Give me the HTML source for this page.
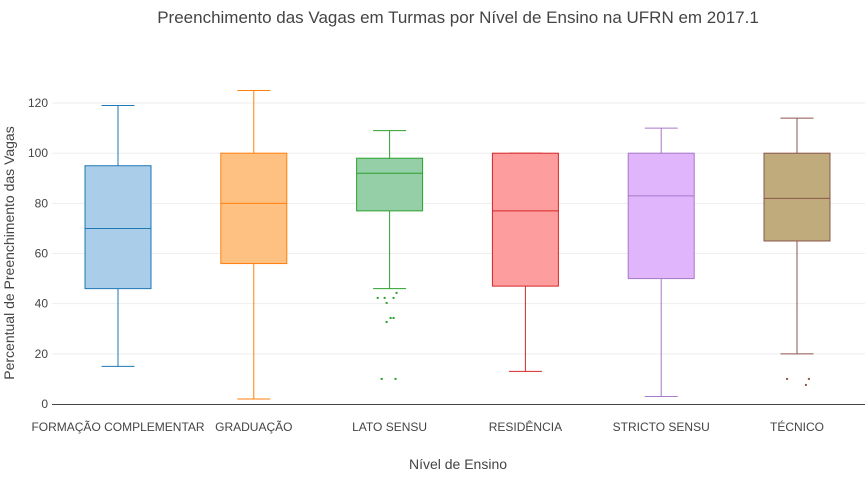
<!DOCTYPE html>
<html><head><meta charset="utf-8"><style>
body{margin:0;background:#fff;font-family:"Liberation Sans",sans-serif;}
svg text{font-family:"Liberation Sans",sans-serif;fill:#444;}
</style></head><body>
<svg id="c" width="867" height="475">
<text x="458" y="23" text-anchor="middle" font-size="17">Preenchimento das Vagas em Turmas por Nível de Ensino na UFRN em 2017.1</text>
<text transform="translate(14,253) rotate(-90)" text-anchor="middle" font-size="14">Percentual de Preenchimento das Vagas</text>
<text x="458" y="469" text-anchor="middle" font-size="14">Nível de Ensino</text>
<g id="grid"></g><g id="boxes"></g><g id="xl"></g>
</svg>
<script>
const categories=["FORMAÇÃO COMPLEMENTAR","GRADUAÇÃO","LATO SENSU","RESIDÊNCIA","STRICTO SENSU","TÉCNICO"];
const lowWhisker=[15,2,46,13,3,20];
const q1=[46,56,77,47,50,65];
const median=[70,80,92,77,83,82];
const q3=[95,100,98,100,100,100];
const highWhisker=[119,125,109,100,110,114];
const outlierCat=[2,2,2,2,2,2,2,2,2,2,5,5,5];
const outlierVal=[44.3,42.3,42.3,42.3,40.3,34.3,34.3,32.7,10,10,10,10,7.6];
const outlierJitter=[0.07,-0.12,-0.05,0.04,-0.03,0.01,0.04,-0.03,-0.08,0.06,-0.1,0.12,0.09];
const yTicks=[0,20,40,60,80,100,120];
const lineColors=["#1f77b4","#ff7f0e","#2ca02c","#d62728","#a678c9","#8c564b"];
const fillColors=["#aacde9","#ffc182","#95cfa8","#fe9d9d","#e1b5fb","#bfab7b"];
const NS="http://www.w3.org/2000/svg";
const y=v=>404-v*2.508, x=i=>118+i*135.8, BW=66;
function mk(t,a,p){const e=document.createElementNS(NS,t);for(const k in a)e.setAttribute(k,a[k]);p.appendChild(e);return e;}
const g=document.getElementById('grid');
yTicks.forEach(t=>{
 if(t>0){const l=mk('line',{x1:52,x2:865,y1:y(t),y2:y(t),stroke:'#eee'},g);
 
 }
 const tx=mk('text',{x:48,y:y(t)+4,'text-anchor':'end','font-size':12},g);tx.textContent=t;
 
 
});
const ax=mk('line',{x1:52,x2:865,y1:404.5,y2:404.5,stroke:'#444'},g);


const b=document.getElementById('boxes');
categories.forEach((c,i)=>{
 const cx=x(i),col=lineColors[i];
 const gg=mk('g',{},b);
 
 
 mk('line',{x1:cx,x2:cx,y1:y(lowWhisker[i]),y2:y(q1[i]),stroke:col,'stroke-width':1},gg);
 mk('line',{x1:cx,x2:cx,y1:y(q3[i]),y2:y(highWhisker[i]),stroke:col,'stroke-width':1},gg);
 mk('line',{x1:cx-BW/4,x2:cx+BW/4,y1:y(lowWhisker[i]),y2:y(lowWhisker[i]),stroke:col,'stroke-width':1},gg);
 mk('line',{x1:cx-BW/4,x2:cx+BW/4,y1:y(highWhisker[i]),y2:y(highWhisker[i]),stroke:col,'stroke-width':1},gg);
 mk('rect',{x:cx-BW/2,y:y(q3[i]),width:BW,height:y(q1[i])-y(q3[i]),fill:fillColors[i],stroke:col,'stroke-width':1},gg);
 mk('line',{x1:cx-BW/2,x2:cx+BW/2,y1:y(median[i]),y2:y(median[i]),stroke:col,'stroke-width':1},gg);
 const t=mk('text',{x:cx,y:431,'text-anchor':'middle','font-size':12},document.getElementById('xl'));t.textContent=c;
 
 
});
outlierVal.forEach((v,k)=>{
 const i=outlierCat[k];
 const r=mk('rect',{x:x(i)+outlierJitter[k]*BW*1.5-1,y:y(v)-1,width:2,height:2,fill:lineColors[i]},b);
 
 
});
</script>
</body></html>
